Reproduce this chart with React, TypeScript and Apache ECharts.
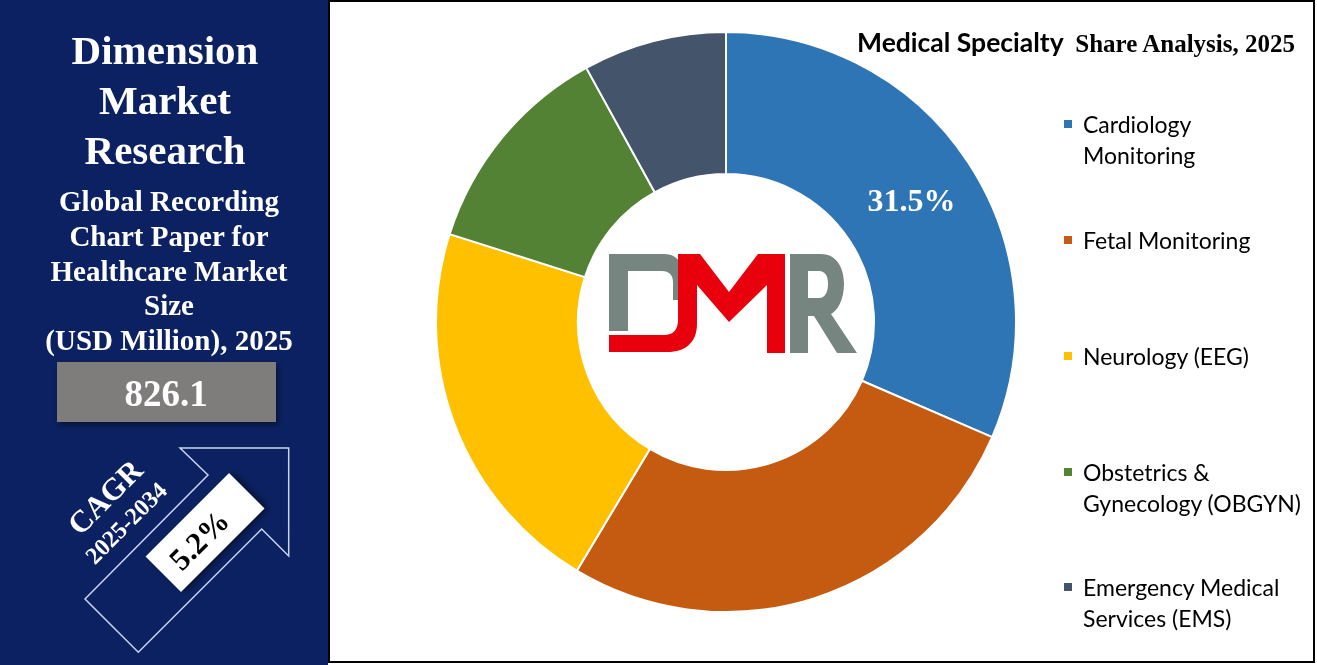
import React, { useEffect, useRef } from 'react';
import * as echarts from 'echarts';

// ---------- data ----------
const categories = [
  'Cardiology Monitoring',
  'Fetal Monitoring',
  'Neurology (EEG)',
  'Obstetrics & Gynecology (OBGYN)',
  'Emergency Medical Services (EMS)',
];
const legendLabels = [
  'Cardiology\nMonitoring',
  'Fetal Monitoring',
  'Neurology (EEG)',
  'Obstetrics &\nGynecology (OBGYN)',
  'Emergency Medical\nServices (EMS)',
];
const shares = [31.5, 27.1, 21.3, 12.1, 8.0];
const sliceColors = ['#2e75b6', '#c55a11', '#ffc000', '#548235', '#44546a'];
const labelledSlices = [true, false, false, false, false];

const panelTitle = ['Dimension', 'Market', 'Research'];
const panelSubtitle = ['Global Recording', 'Chart Paper for', 'Healthcare Market', 'Size', '(USD Million), 2025'];
const marketSize = '826.1';
const cagrLabel = 'CAGR';
const cagrPeriod = '2025-2034';
const cagrValue = '5.2%';
const chartTitleBold = 'Medical Specialty';
const chartTitleRest = 'Share Analysis, 2025';

// ---------- layout ----------
const legendTops = [77.5, 224.5, 340.5, 425.5, 540.5];
const NAVY = '#0b2161';
const SERIF = '"Liberation Serif", "Times New Roman", serif';
const SANS = 'Lato, "Open Sans", sans-serif';

const grayPath =
  'M0,0 H55 C66,0 72,6 72,16 V46 H64 V28 C64,21 60,17 53,17 H19 V77 H0 Z ' +
  'M181,0 H212 C227,0 235,13 235,30 C235,46 228,57 222,60 L248,99 H228 L205,62 H199 V99 H181 Z ' +
  'M199,17 V44 H210 C216,44 219,38 219,30 C219,22 216,17 210,17 Z';
const redPath =
  'M69,0 H91 L120,38 L149,0 H176 V99 H158 V31 L120,68 L88,31 V70 C88,88 77,98 58,98 H0 V81 H55 C64,81 69,76 69,66 Z';

let registered = false;
function registerShapes() {
  if (registered) return;
  echarts.graphic.registerShape('dmrGray', echarts.graphic.extendPath(grayPath, {}));
  echarts.graphic.registerShape('dmrRed', echarts.graphic.extendPath(redPath, {}));
  registered = true;
}

export default function App() {
  const ref = useRef<HTMLDivElement>(null);

  useEffect(() => {
    if (!ref.current) return;
    registerShapes();
    const chart = echarts.init(ref.current, null, { renderer: 'svg' });

    const panelTexts: any[] = [];
    panelTitle.forEach((t, i) => {
      panelTexts.push({
        type: 'text',
        x: 165,
        y: 50 + i * 50,
        z: 5,
        style: {
          text: t,
          fill: '#ffffff',
          font: `bold 41px ${SERIF}`,
          align: 'center',
          verticalAlign: 'middle',
        },
      });
    });
    panelSubtitle.forEach((t, i) => {
      panelTexts.push({
        type: 'text',
        x: 169,
        y: 201 + i * 34.8,
        z: 5,
        style: {
          text: t,
          fill: '#ffffff',
          font: `bold 29px ${SERIF}`,
          align: 'center',
          verticalAlign: 'middle',
        },
      });
    });

    const option: any = {
      animation: false,
      color: sliceColors,
      legend: categories.map((name, i) => ({
        data: [name],
        orient: 'vertical',
        left: 1062,
        top: legendTops[i],
        padding: 0,
        icon: 'rect',
        itemWidth: 10,
        itemHeight: 10,
        selectedMode: false,
        formatter: () =>
          legendLabels[i].includes('\n') ? '\n' + legendLabels[i] : legendLabels[i],
        textStyle: {
          fontFamily: SANS,
          fontSize: 23,
          color: '#000',
          lineHeight: 31,
          padding: [0, 0, 0, 5],
        },
      })),
      graphic: [
        {
          type: 'rect',
          z: 0,
          shape: { x: 0, y: 0, width: 328, height: 665 },
          style: { fill: NAVY },
        },
        {
          type: 'rect',
          z: 0,
          shape: { x: 329, y: 1, width: 985, height: 661 },
          style: { fill: '#ffffff', stroke: '#000000', lineWidth: 2 },
        },
        {
          type: 'text',
          z: 5,
          x: 857,
          y: 42,
          style: {
            text: chartTitleBold,
            fill: '#000',
            font: `bold 26.5px ${SANS}`,
            align: 'left',
            verticalAlign: 'middle',
          },
        },
        {
          type: 'text',
          z: 5,
          x: 1295,
          y: 43,
          style: {
            text: chartTitleRest,
            fill: '#000',
            font: `bold 25px ${SERIF}`,
            align: 'right',
            verticalAlign: 'middle',
          },
        },
        ...panelTexts,
        {
          type: 'rect',
          z: 5,
          shape: { x: 57, y: 362, width: 219, height: 60 },
          style: {
            fill: '#7f7b7b',
            shadowBlur: 6,
            shadowColor: 'rgba(0,0,0,0.45)',
            shadowOffsetX: 2,
            shadowOffsetY: 3,
          },
        },
        {
          type: 'text',
          z: 6,
          x: 166,
          y: 393,
          style: {
            text: marketSize,
            fill: '#ffffff',
            font: `bold 37px ${SERIF}`,
            align: 'center',
            verticalAlign: 'middle',
          },
        },
        {
          type: 'polygon',
          z: 5,
          shape: {
            points: [
              [208, 475],
              [180, 448],
              [288.7, 448],
              [288.7, 556],
              [261.7, 529],
              [138.3, 652.3],
              [85, 599],
            ],
          },
          style: { fill: 'none', stroke: '#c9d4f0', lineWidth: 1.5 },
        },
        {
          type: 'rect',
          z: 6,
          x: 205,
          y: 532.5,
          rotation: Math.PI / 4,
          shape: { x: -59, y: -25, width: 118, height: 50 },
          style: {
            fill: '#ffffff',
            shadowBlur: 6,
            shadowColor: 'rgba(0,0,0,0.5)',
            shadowOffsetX: 3,
            shadowOffsetY: 3,
          },
        },
        {
          type: 'text',
          z: 7,
          x: 199,
          y: 540,
          rotation: Math.PI / 4,
          style: {
            text: cagrValue,
            fill: '#000000',
            font: `bold 31px ${SERIF}`,
            align: 'center',
            verticalAlign: 'middle',
          },
        },
        {
          type: 'text',
          z: 7,
          x: 105,
          y: 497,
          rotation: Math.PI / 4,
          style: {
            text: cagrLabel,
            fill: '#ffffff',
            font: `bold 31px ${SERIF}`,
            align: 'center',
            verticalAlign: 'middle',
          },
        },
        {
          type: 'text',
          z: 7,
          x: 126,
          y: 523,
          rotation: Math.PI / 4,
          style: {
            text: cagrPeriod,
            fill: '#ffffff',
            font: `bold 24px ${SERIF}`,
            align: 'center',
            verticalAlign: 'middle',
          },
        },
        {
          type: 'dmrGray',
          z: 8,
          x: 609,
          y: 254,
          style: { fill: '#76857f' },
        },
        {
          type: 'dmrRed',
          z: 9,
          x: 609,
          y: 254,
          style: { fill: '#e8000c' },
        },
      ],
      series: [
        {
          type: 'pie',
          center: [726, 322],
          radius: [148, 290],
          startAngle: 90,
          clockwise: true,
          avoidLabelOverlap: false,
          silent: true,
          z: 3,
          itemStyle: { borderColor: '#ffffff', borderWidth: 2 },
          label: { show: false },
          labelLine: { show: false },
          emphasis: { disabled: true },
          data: categories.map((name, i) => ({
            name,
            value: shares[i],
            label: labelledSlices[i]
              ? {
                  show: true,
                  position: 'inside',
                  formatter: '{d}%',
                  color: '#ffffff',
                  fontFamily: SERIF,
                  fontWeight: 'bold',
                  fontSize: 32,
                }
              : { show: false },
          })),
        },
      ],
    };

    chart.setOption(option);
    return () => chart.dispose();
  }, []);

  return (
    <div
      ref={ref}
      style={{ position: 'fixed', left: 0, top: 0, width: 1317, height: 665 }}
    />
  );
}
